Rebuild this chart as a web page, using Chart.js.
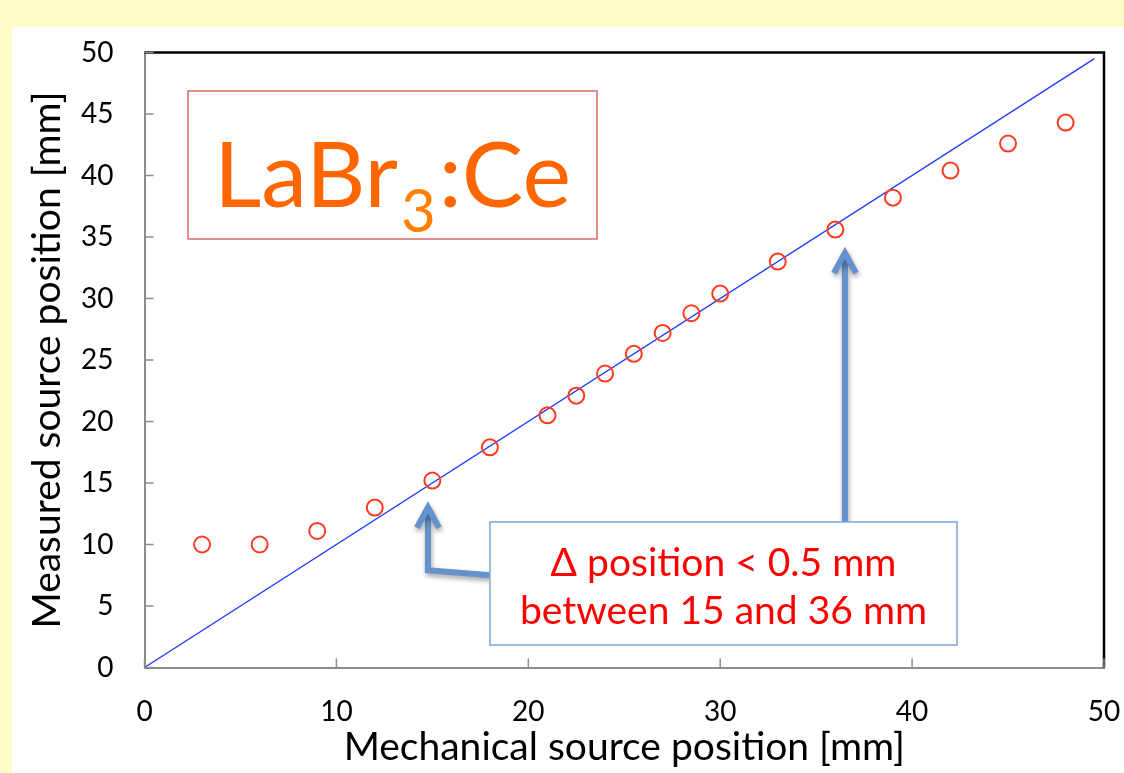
<!DOCTYPE html>
<html>
<head>
<meta charset="utf-8">
<script src="https://cdn.jsdelivr.net/npm/chart.js@4/dist/chart.umd.min.js"></script>
<style>
  html, body { margin: 0; padding: 0; background: #FFFCC6; }
  #wrap { width: 1124px; height: 773px; }
</style>
</head>
<body>
<div id="wrap"><canvas id="posChart" width="1124" height="773"></canvas></div>
<script>
// measured points (mechanical vs measured source position, mm)
const mechanicalPos = [3, 6, 9, 12, 15, 18, 21, 22.5, 24, 25.5, 27, 28.5, 30, 33, 36, 39, 42, 45, 48];
const measuredPos = [10.0, 10.0, 11.1, 13.0, 15.2, 17.9, 20.5, 22.1, 23.9, 25.5, 27.2, 28.8, 30.4, 33.0, 35.6, 38.2, 40.4, 42.6, 44.3];

// ideal y = x line
const idealX = [0, 49.5];
const idealY = [0, 49.5];

const xTicks = [0, 10, 20, 30, 40, 50];
const yTicks = [0, 5, 10, 15, 20, 25, 30, 35, 40, 45, 50];

const FONT = 'Lato, "Open Sans", sans-serif';

// annotation boxes, in data units
const labelBox = { x0: 2.27, x1: 23.58, y0: 46.87, y1: 34.84 };
const noteBox = { x0: 18.0, x1: 42.34, y0: 11.83, y1: 1.83 };

function drawArrow(ctx, pts) {
  // last point is the tip
  ctx.beginPath();
  ctx.moveTo(pts[0][0], pts[0][1]);
  for (let i = 1; i < pts.length; i++) ctx.lineTo(pts[i][0], pts[i][1]);
  ctx.stroke();
  const [tx, ty] = pts[pts.length - 1];
  const [px, py] = pts[pts.length - 2];
  const ang = Math.atan2(ty - py, tx - px);
  const len = 23, spread = 0.5;
  ctx.beginPath();
  ctx.moveTo(tx - len * Math.cos(ang - spread), ty - len * Math.sin(ang - spread));
  ctx.lineTo(tx, ty);
  ctx.lineTo(tx - len * Math.cos(ang + spread), ty - len * Math.sin(ang + spread));
  ctx.stroke();
}

const framePlugin = {
  id: 'framePlugin',
  beforeDraw(chart) {
    const ctx = chart.ctx;
    ctx.save();
    ctx.fillStyle = '#FFFCC6';
    ctx.fillRect(0, 0, chart.width, chart.height);
    ctx.fillStyle = '#ffffff';
    ctx.fillRect(12, 27, chart.width - 12, chart.height - 27);
    ctx.restore();
  },
  afterDatasetsDraw(chart) {
    const ctx = chart.ctx;
    const { left, right, top, bottom } = chart.chartArea;
    const xs = chart.scales.x, ys = chart.scales.y;
    ctx.save();

    // top and right frame
    ctx.strokeStyle = '#000000';
    ctx.lineWidth = 2.5;
    ctx.beginPath();
    ctx.moveTo(left, top);
    ctx.lineTo(right, top);
    ctx.lineTo(right, bottom);
    ctx.stroke();

    // inward tick marks
    ctx.strokeStyle = '#8c8c8c';
    ctx.lineWidth = 1.5;
    yTicks.forEach((v) => {
      const py = ys.getPixelForValue(v);
      ctx.beginPath();
      ctx.moveTo(left, py);
      ctx.lineTo(left + 9, py);
      ctx.stroke();
    });
    xTicks.forEach((v) => {
      const px = xs.getPixelForValue(v);
      ctx.beginPath();
      ctx.moveTo(px, bottom);
      ctx.lineTo(px, bottom - 9);
      ctx.stroke();
    });

    // LaBr3:Ce label
    const lx0 = xs.getPixelForValue(labelBox.x0), lx1 = xs.getPixelForValue(labelBox.x1);
    const ly0 = ys.getPixelForValue(labelBox.y0), ly1 = ys.getPixelForValue(labelBox.y1);
    ctx.strokeStyle = '#D66B66';
    ctx.lineWidth = 1.5;
    ctx.strokeRect(lx0, ly0, lx1 - lx0, ly1 - ly0);
    const big = 92, small = 60;
    ctx.font = big + 'px ' + FONT;
    const w1 = ctx.measureText('LaBr').width;
    const w3 = ctx.measureText(':Ce').width;
    ctx.font = small + 'px ' + FONT;
    const w2 = ctx.measureText('3').width;
    let cx = (lx0 + lx1) / 2 - (w1 + w2 + w3 + 6) / 2;
    const base = ly0 + (ly1 - ly0) * 0.784;
    ctx.textBaseline = 'alphabetic';
    ctx.textAlign = 'left';
    ctx.fillStyle = '#FF6600';
    ctx.font = big + 'px ' + FONT;
    ctx.fillText('LaBr', cx, base);
    cx += w1 + 3;
    ctx.fillStyle = '#FF8000';
    ctx.font = small + 'px ' + FONT;
    ctx.fillText('3', cx, base + 25);
    cx += w2 + 3;
    ctx.fillStyle = '#FF6600';
    ctx.font = big + 'px ' + FONT;
    ctx.fillText(':Ce', cx, base);

    // arrows
    const nx0 = xs.getPixelForValue(noteBox.x0), nx1 = xs.getPixelForValue(noteBox.x1);
    const ny0 = ys.getPixelForValue(noteBox.y0), ny1 = ys.getPixelForValue(noteBox.y1);
    ctx.strokeStyle = '#6392CC';
    ctx.lineWidth = 6;
    ctx.lineJoin = 'miter';
    ctx.lineCap = 'butt';
    ctx.shadowColor = 'rgba(0,0,0,0.35)';
    ctx.shadowBlur = 5;
    ctx.shadowOffsetX = 1;
    ctx.shadowOffsetY = 3;
    drawArrow(ctx, [
      [xs.getPixelForValue(36.5), ny0],
      [xs.getPixelForValue(36.5), ys.getPixelForValue(33.7)]
    ]);
    drawArrow(ctx, [
      [nx0, ys.getPixelForValue(7.5)],
      [xs.getPixelForValue(14.77), ys.getPixelForValue(7.9)],
      [xs.getPixelForValue(14.77), ys.getPixelForValue(13.0)]
    ]);
    ctx.shadowColor = 'transparent';

    // note box
    ctx.fillStyle = '#ffffff';
    ctx.fillRect(nx0, ny0, nx1 - nx0, ny1 - ny0);
    ctx.strokeStyle = '#7DA7D9';
    ctx.lineWidth = 1.5;
    ctx.strokeRect(nx0, ny0, nx1 - nx0, ny1 - ny0);
    ctx.fillStyle = '#FF0000';
    ctx.font = '39px ' + FONT;
    ctx.textAlign = 'center';
    ctx.textBaseline = 'middle';
    const bh = ny1 - ny0;
    ctx.fillText('\u0394 position < 0.5 mm', (nx0 + nx1) / 2, ny0 + bh * 0.333);
    ctx.fillText('between 15 and 36 mm', (nx0 + nx1) / 2, ny0 + bh * 0.724);

    ctx.restore();
  }
};

const ctx = document.getElementById('posChart');
new Chart(ctx, {
  type: 'scatter',
  data: {
    datasets: [
      {
        label: 'Measured',
        data: mechanicalPos.map((x, i) => ({ x: x, y: measuredPos[i] })),
        pointStyle: 'circle',
        pointRadius: 8,
        pointBorderWidth: 2,
        pointBorderColor: '#FF3B1F',
        pointBackgroundColor: 'rgba(0,0,0,0)',
        showLine: false,
      },
      {
        label: 'Ideal',
        data: idealX.map((x, i) => ({ x: x, y: idealY[i] })),
        showLine: true,
        borderColor: '#1F3BFF',
        borderWidth: 1.3,
        pointRadius: 0,
      },
    ],
  },
  options: {
    responsive: false,
    devicePixelRatio: 1,
    animation: false,
    layout: { padding: { top: 52.5, right: 20, left: 0, bottom: 0 } },
    plugins: {
      legend: { display: false },
      tooltip: { enabled: false },
    },
    scales: {
      x: {
        type: 'linear',
        min: 0,
        max: 50,
        afterBuildTicks: (scale) => { scale.ticks = xTicks.map((v) => ({ value: v })); },
        afterFit: (scale) => {
          scale.height = 105.5;
          scale.paddingLeft = 0;
          scale.paddingRight = 0;
        },
        grid: { drawOnChartArea: false, drawTicks: false },
        border: { color: '#8c8c8c', width: 2 },
        ticks: { color: '#000', padding: 28, font: { family: FONT, size: 28 } },
        title: {
          display: true,
          text: 'Mechanical source position [mm]',
          color: '#000',
          font: { family: FONT, size: 39 },
          padding: { top: 0, bottom: 2 },
        },
      },
      y: {
        type: 'linear',
        min: 0,
        max: 50,
        afterBuildTicks: (scale) => { scale.ticks = yTicks.map((v) => ({ value: v })); },
        afterFit: (scale) => {
          scale.width = 144.5;
          scale.paddingTop = 0;
          scale.paddingBottom = 0;
        },
        grid: { drawOnChartArea: false, drawTicks: false },
        border: { color: '#8c8c8c', width: 2 },
        ticks: { color: '#000', padding: 31, font: { family: FONT, size: 28 } },
        title: {
          display: true,
          text: 'Measured source position [mm]',
          color: '#000',
          font: { family: FONT, size: 39 },
          padding: { top: 24, bottom: 0 },
        },
      },
    },
  },
  plugins: [framePlugin],
});
</script>
</body>
</html>
